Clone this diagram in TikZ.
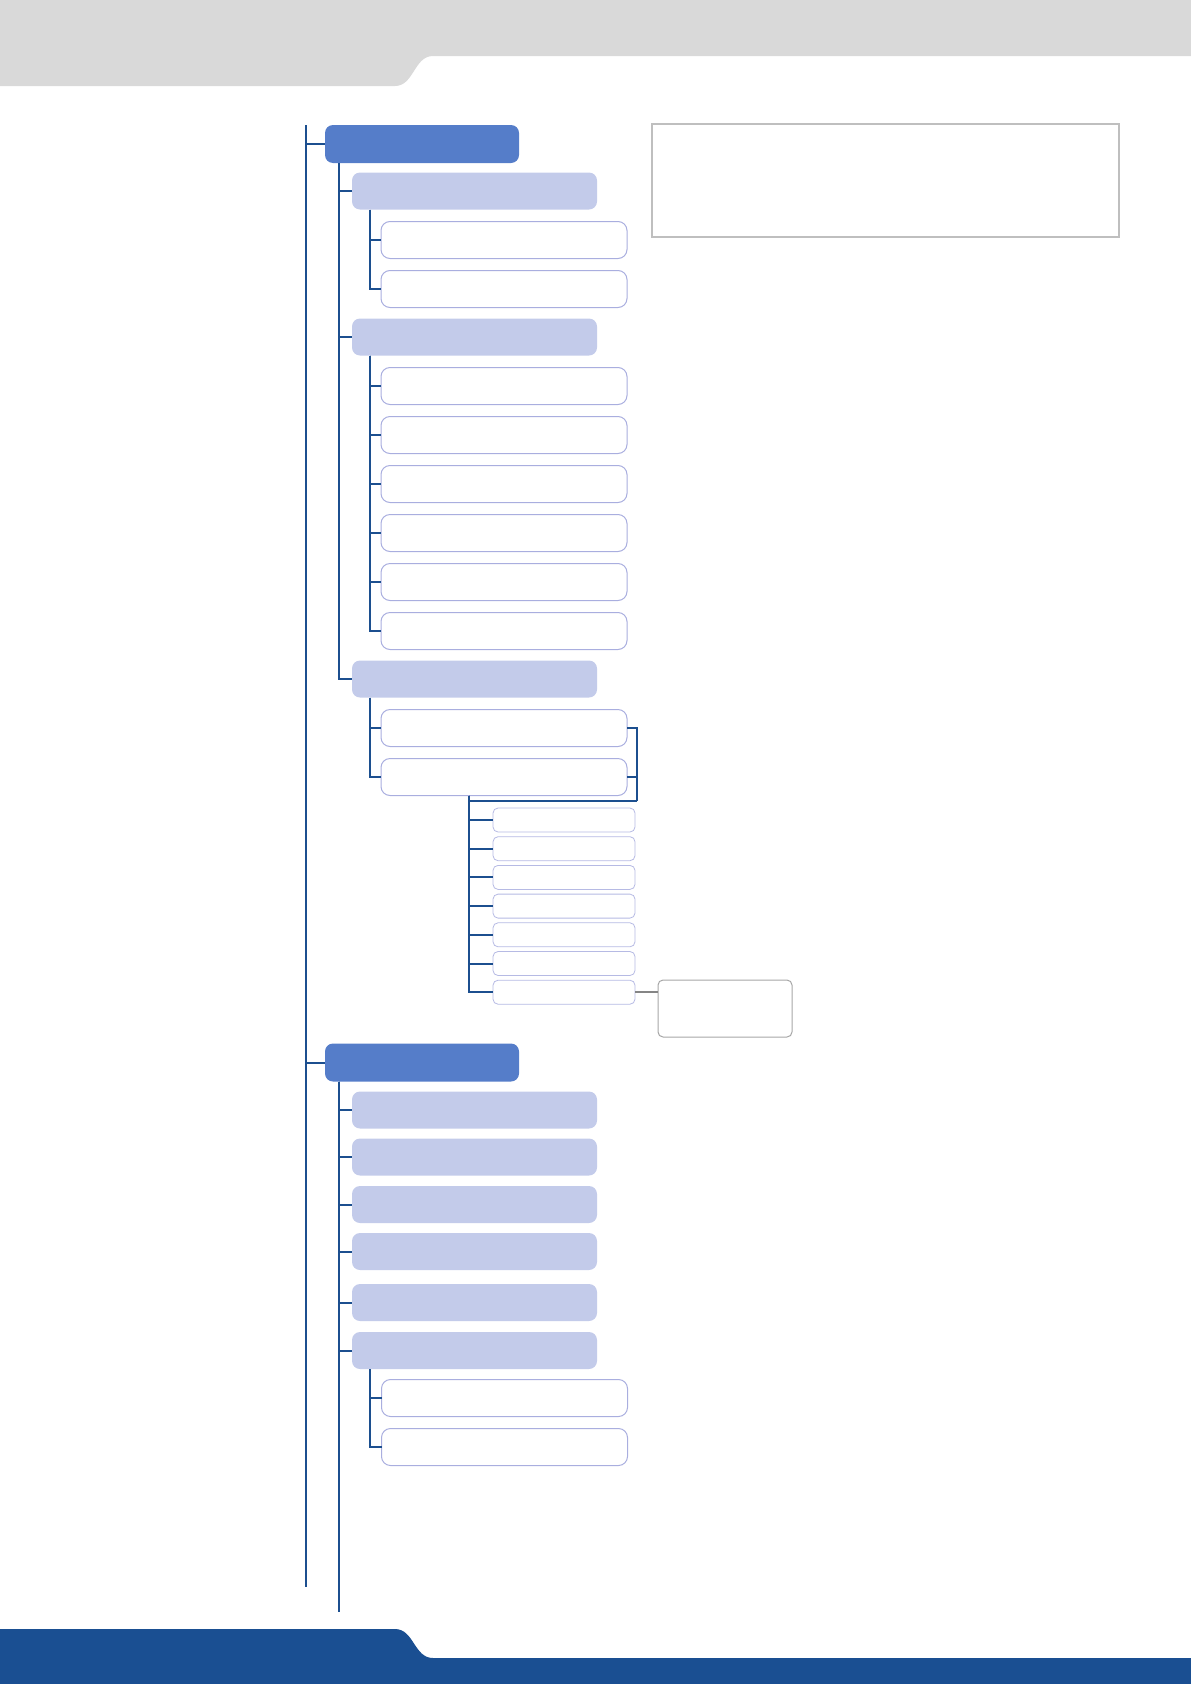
\documentclass[tikz,border=0pt]{standalone}
\usepackage{xcolor}
\usepackage{tikz}
\usetikzlibrary{calc}

\definecolor{headgrey}{HTML}{D9D9D9}
\definecolor{footblue}{HTML}{1A4F92}
\definecolor{linkblue}{HTML}{1C4F8F}
\definecolor{mainblue}{HTML}{557DC9}
\definecolor{grouplav}{HTML}{C3CBEA}
\definecolor{itemlav}{HTML}{A9AEDF}
\definecolor{notegrey}{HTML}{A6A6A6}
\definecolor{infogrey}{HTML}{BFBFBF}

\tikzset{
  mainbox/.style={fill=mainblue, rounded corners=8pt, minimum width=194pt, minimum height=38pt, inner sep=0pt, outer sep=0pt},
  groupbox/.style={fill=grouplav, rounded corners=8pt, minimum width=245pt, minimum height=37pt, inner sep=0pt, outer sep=0pt},
  itembox/.style={draw=itemlav, fill=white, line width=1pt, rounded corners=9pt, minimum width=246pt, minimum height=37pt, inner sep=0pt, outer sep=0pt},
  subbox/.style={draw=itemlav!85, fill=white, line width=0.8pt, rounded corners=5pt, minimum width=142pt, minimum height=24pt, inner sep=0pt, outer sep=0pt},
  notebox/.style={draw=notegrey, line width=1pt, rounded corners=5pt, minimum width=134pt, minimum height=57pt, inner sep=0pt, outer sep=0pt},
  infobox/.style={draw=infogrey, line width=2pt, minimum width=467pt, minimum height=113pt, inner sep=0pt},
  link/.style={draw=linkblue, line width=2pt},
  notelink/.style={draw=notegrey!80!black, line width=2pt}
}

\begin{document}
\begin{tikzpicture}[x=1pt,y=-1pt]
\useasboundingbox (0,0) rectangle (1191,1684);

% page header and footer
\fill[headgrey] (0,0) -- (1191,0) -- (1191,56) -- (433,56) .. controls (414,56) and (414,86) .. (395,86) -- (0,86) -- cycle;
\fill[footblue] (0,1629) -- (395,1629) .. controls (414,1629) and (414,1658) .. (433,1658) -- (1191,1658) -- (1191,1684) -- (0,1684) -- cycle;

% info frame top right
\node[infobox] (info) at (885.5,180.5) {};

% first branch
\node[mainbox] (main1) at (422,144) {};
\node[groupbox] (grpA1) at (474.5,191) {};
\node[groupbox] (grpA2) at (474.5,337) {};
\node[groupbox] (grpA3) at (474.5,679) {};

\foreach \y [count=\i] in {240,289}
    \node[itembox] (itA\i) at (504,\y) {};
\foreach \y [count=\i] in {386,435,484,533,582,631}
    \node[itembox] (itB\i) at (504,\y) {};
\foreach \y [count=\i] in {728,777}
    \node[itembox] (itC\i) at (504,\y) {};

\foreach \y [count=\i] in {820,848.7,877.4,906.1,934.8,963.5,992.2}
    \node[subbox] (sub\i) at (564,\y) {};
\node[notebox] (note) at (725,1008.5) {};

% second branch
\node[mainbox] (main2) at (422,1062.5) {};
\foreach \y [count=\i] in {1110,1157,1204.5,1251.5,1302.5,1350.5}
    \node[groupbox] (grpB\i) at (474.5,\y) {};
\foreach \y [count=\i] in {1398,1447}
    \node[itembox] (itD\i) at (504.5,\y) {};

% trunks
\coordinate (top) at (306,125);
\coordinate (bottom) at (306,1587);
\draw[link] (top) -- (bottom);
\draw[link] (top) |- (main1.west);
\draw[link] (top) |- (main2.west);

\foreach \g in {grpA1,grpA2,grpA3}
    \draw[link] ([xshift=14pt]main1.south west) |- (\g.west);
\coordinate (end2) at (339,1612);
\draw[link] ([xshift=14pt]main2.south west) -- (end2);
\foreach \i in {1,...,6}
    \draw[link] ([xshift=14pt]main2.south west) |- (grpB\i.west);

\foreach \i in {1,2}
    \draw[link] ([xshift=18pt]grpA1.south west) |- (itA\i.west);
\foreach \i in {1,...,6}
    \draw[link] ([xshift=18pt]grpA2.south west) |- (itB\i.west);
\foreach \i in {1,2}
    \draw[link] ([xshift=18pt]grpA3.south west) |- (itC\i.west);
\foreach \i in {1,2}
    \draw[link] ([xshift=18pt]grpB6.south west) |- (itD\i.west);

% bracket and sub list
\coordinate (brk) at (637,801);
\draw[link] (itC1.east) -| (brk);
\draw[link] (itC2.east) -| (brk);
\coordinate (subtop) at ([xshift=88pt]itC2.south west);
\draw[link] (brk) -- (brk -| subtop);
\foreach \i in {1,...,7}
    \draw[link] (subtop) |- (sub\i.west);
\draw[notelink] (sub7.east) -- (sub7.east -| note.west);
\end{tikzpicture}
\end{document}
